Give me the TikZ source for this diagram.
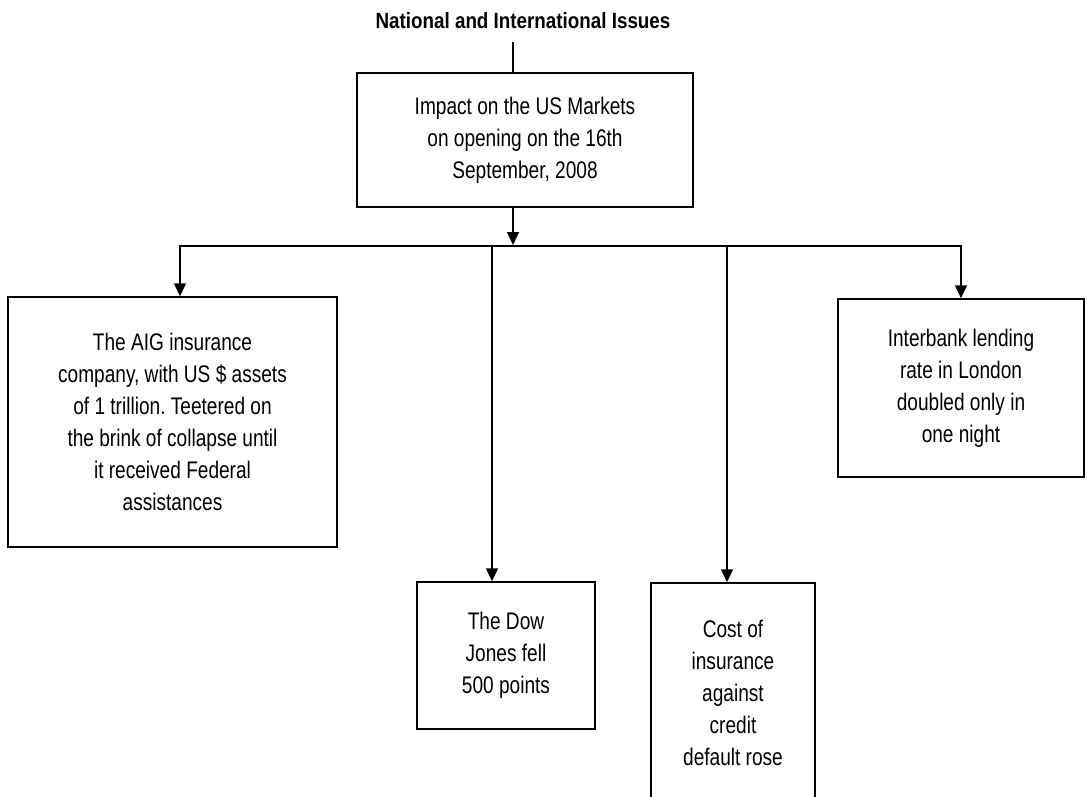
\documentclass[tikz,border=0pt]{standalone}
\usepackage{fontspec}
\setmainfont{Liberation Sans}
\newfontfamily\bodyfont[FakeStretch=0.795]{Liberation Sans}
\newfontfamily\titlefont[FakeStretch=0.855]{Liberation Sans}
\usetikzlibrary{arrows.meta}
\frenchspacing
\begin{document}
\begin{tikzpicture}[x=1pt,y=-1pt,
  box/.style={draw, line width=1.5pt, align=center, inner sep=0pt,
    font=\bodyfont\fontsize{24}{32}\selectfont},
  ln/.style={line width=1.5pt},
  arr/.style={line width=1.5pt, -{Triangle[width=12pt,length=13pt]}}]
\useasboundingbox (0,0) rectangle (1090,796);
\node[font=\titlefont\bfseries\fontsize{22}{26}\selectfont] (title) at (523,21) {National and International Issues};
\node[box, minimum width=336, minimum height=134] (top) at (525,140) {Impact on the US Markets\\on opening on the 16th\\September, 2008};
\node[box, minimum width=329, minimum height=250] (aig) at (172.5,422) {The AIG insurance\\company, with US \$ assets\\of 1 trillion. Teetered on\\the brink of collapse until\\it received Federal\\assistances};
\node[box, minimum width=246, minimum height=178] (inter) at (961,388) {Interbank lending\\rate in London\\doubled only in\\one night};
\node[box, minimum width=178, minimum height=147] (dow) at (506,655.5) {The Dow\\Jones fell\\500 points};
\node[box, minimum width=164, minimum height=219] (cost) at (733,692.5) {Cost of\\insurance\\against\\credit\\default rose};
\coordinate (t1) at (513,42);
\coordinate (bm) at (513,246);
\coordinate (b1) at (180,246);
\coordinate (b2) at (492,246);
\coordinate (b3) at (727,246);
\coordinate (b4) at (961,246);
\draw[ln] (t1) -- (t1 |- top.north);
\draw[arr] (t1 |- top.south) -- ([yshift=1pt]bm);
\draw[ln] ([xshift=-0.75pt]b1) -- ([xshift=0.75pt]b4);
\draw[arr] (b1) -- (b1 |- aig.north);
\draw[arr] (b2) -- (b2 |- dow.north);
\draw[arr] (b3) -- (b3 |- cost.north);
\draw[arr] (b4) -- (b4 |- inter.north);
\end{tikzpicture}
\end{document}
